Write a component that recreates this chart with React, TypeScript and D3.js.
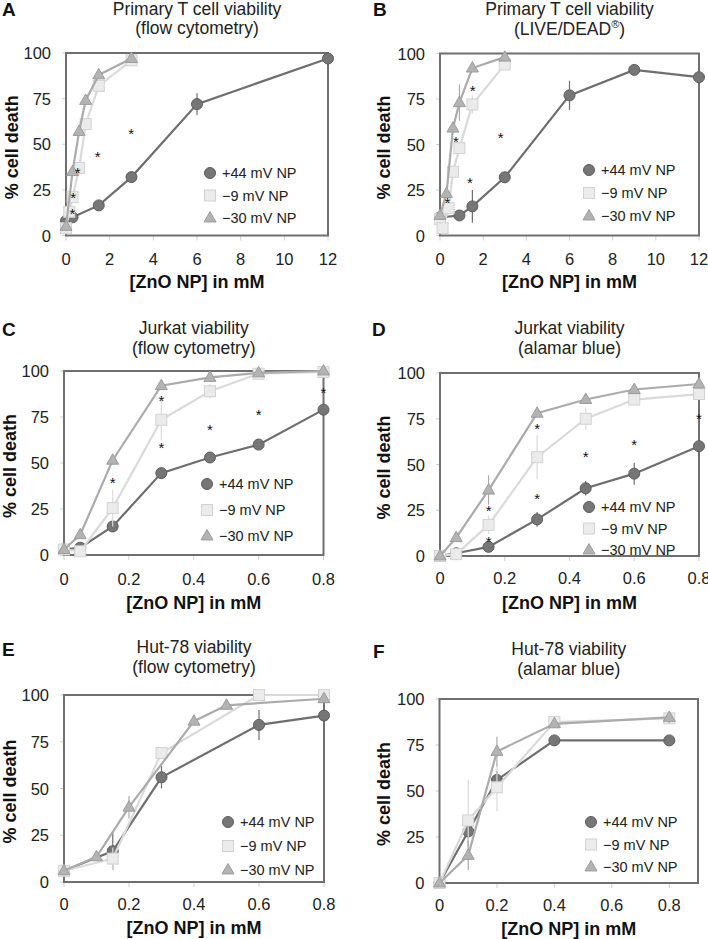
import React from "react";
import * as d3 from "d3";

const FONT = "'Liberation Sans', Arial, Helvetica, sans-serif";

const seriesNames = ["+44 mV NP", "\u22129 mV NP", "\u221230 mV NP"];
const yTicks = [0, 25, 50, 75, 100];
const xTicksWide = [0, 2, 4, 6, 8, 10, 12];
const xTicksNarrow = [0, 0.2, 0.4, 0.6, 0.8];

// Panel A
const aX44 = [0, 0.3, 1.5, 3, 6, 12];
const aY44 = [8, 10, 16.5, 32, 72, 97];
const aE44 = [1, 1, 2, 2, 6, 2];
const aXm9 = [0, 0.15, 0.3, 0.6, 0.9, 1.5, 3];
const aYm9 = [4, 13, 21, 37, 61, 82, 96];
const aEm9 = [1, 2, 2, 2, 2, 2, 2];
const aXm30 = [0, 0.3, 0.6, 0.9, 1.5, 3];
const aYm30 = [5, 35, 57, 74, 88, 97];
const aEm30 = [1, 2, 2, 2, 2, 2];
const aStars = [[0.29, 13], [0.33, 21.5], [0.53, 35.5], [1.45, 44], [2.98, 56.5]];

// Panel B
const bX44 = [0, 0.9, 1.5, 3, 6, 9, 12];
const bY44 = [10, 11, 16, 32, 77, 91, 87];
const bE44 = [1, 1, 9, 3, 8, 2, 2];
const bXm9 = [0, 0.12, 0.4, 0.6, 0.9, 1.5, 3];
const bYm9 = [9, 4, 15, 35, 48, 72, 94];
const bEm9 = [1, 1, 2, 2, 3, 5, 2];
const bXm30 = [0, 0.3, 0.6, 0.9, 1.5, 3];
const bYm30 = [11, 23, 59, 73, 92, 98];
const bEm30 = [1, 2, 3, 10, 2, 1];
const bStars = [[0.34, 19], [0.74, 52.5], [1.51, 80.5], [1.39, 30], [2.81, 54.5]];

// Panel C
const cX = [0, 0.05, 0.15, 0.3, 0.45, 0.6, 0.8];
const cY44 = [3, 4, 15.5, 44.5, 53, 60, 79];
const cE44 = [1, 1, 3, 2, 3, 2, 2];
const cYm9 = [3, 2, 25.5, 73.5, 89, 98.5, 99.5];
const cEm9 = [1, 1, 10, 11, 4, 1, 1];
const cYm30 = [3, 11, 51.5, 92, 96.5, 99, 100];
const cEm30 = [1, 2, 2, 1, 1, 1, 1];
const cStars = [[0.15, 40], [0.3, 85], [0.3, 59], [0.45, 69], [0.6, 77], [0.8, 89]];

// Panel D
const dX = [0, 0.05, 0.15, 0.3, 0.45, 0.6, 0.8];
const dY44 = [0, 1.5, 5, 20, 37, 45, 60];
const dE44 = [0, 1, 3, 4, 4, 6, 3];
const dYm9 = [0, 1, 17, 54, 75, 85.5, 88.5];
const dEm9 = [0, 1, 5, 12, 6, 2, 2];
const dYm30 = [0, 10, 36, 78, 85.5, 91, 94];
const dEm30 = [0, 1, 8, 2, 2, 2, 2];
const dStars = [[0.15, 25.5], [0.15, 8.5], [0.3, 70.5], [0.3, 32], [0.45, 55], [0.6, 62], [0.8, 76]];

// Panel E
const eX44 = [0, 0.15, 0.3, 0.6, 0.8];
const eY44 = [6, 16.5, 56, 84, 89];
const eE44 = [1, 10, 6, 8, 2];
const eXm9 = [0, 0.15, 0.3, 0.6, 0.8];
const eYm9 = [6, 12.5, 69, 100, 100];
const eEm9 = [1, 6, 3, 2, 2];
const eXm30 = [0, 0.1, 0.2, 0.4, 0.5, 0.8];
const eYm30 = [6, 13.5, 40, 86, 94.5, 98];
const eEm30 = [1, 1, 6, 2, 1, 1];

// Panel F
const fX = [0, 0.1, 0.2, 0.4, 0.8];
const fY44 = [0, 28, 56, 77.5, 77.5];
const fE44 = [0, 8, 5, 1, 1];
const fYm9 = [0, 34, 52, 87.5, 89.5];
const fEm9 = [0, 22, 13, 2, 2];
const fYm30 = [0, 15, 71.5, 86.5, 90];
const fEm30 = [0, 8, 8, 2, 3];

const STYLE = [
  { line: "#6e6e6e", fill: "#767676", stroke: "#5c5c5c", shape: "circle" },
  { line: "#dadada", fill: "#ebebeb", stroke: "#d2d2d2", shape: "square" },
  { line: "#ababab", fill: "#b3b3b3", stroke: "#9c9c9c", shape: "triangle" },
];

type Series = { x: number[]; y: number[]; e: number[] };
type PanelCfg = {
  letter: string;
  lx: number;
  ly: number;
  title1: string;
  title2: React.ReactNode;
  t1y: number;
  t2y: number;
  px0: number;
  px1: number;
  py0: number;
  py1: number;
  xMax: number;
  xTicks: number[];
  series: Series[];
  stars: number[][];
  legX: number;
  legY: number;
  legGap: number;
  xTickY: number;
  xLabY: number;
  yLabX: number;
};

function Marker({ shape, cx, cy, fill, stroke }: any) {
  if (shape === "circle") return <circle cx={cx} cy={cy} r={5.5} fill={fill} stroke={stroke} strokeWidth={1} />;
  if (shape === "square") return <rect x={cx - 5.5} y={cy - 5.5} width={11} height={11} fill={fill} stroke={stroke} strokeWidth={1} />;
  const s = 12;
  const h = s * 0.866;
  const pts = `${cx},${cy - h * 0.62} ${cx - s / 2},${cy + h * 0.38} ${cx + s / 2},${cy + h * 0.38}`;
  return <polygon points={pts} fill={fill} stroke={stroke} strokeWidth={1} />;
}

function Panel({ c }: { c: PanelCfg }) {
  const x = d3.scaleLinear().domain([0, c.xMax]).range([c.px0, c.px1]);
  const y = d3.scaleLinear().domain([0, 100]).range([c.py0, c.py1]);
  const cx = (c.px0 + c.px1) / 2;
  const cy = (c.py0 + c.py1) / 2;
  const fmt = (v: number) => (c.xMax > 2 ? String(v) : v === 0 ? "0" : d3.format(".1f")(v));
  return (
    <g fontFamily={FONT}>
      <text x={c.lx} y={c.ly} fontSize={19} fontWeight="bold" fill="#111">{c.letter}</text>
      <text x={cx} y={c.t1y} fontSize={17.5} textAnchor="middle" fill="#222">{c.title1}</text>
      <text x={cx} y={c.t2y} fontSize={17.5} textAnchor="middle" fill="#222">{c.title2}</text>
      {c.xTicks.map((t) => (
        <g key={"xt" + t}>
          <line x1={x(t)} x2={x(t)} y1={c.py0} y2={c.py0 + 5} stroke="#cfcfcf" strokeWidth={1} />
          <text x={x(t)} y={c.xTickY} fontSize={16.5} textAnchor="middle" fill="#222">{fmt(t)}</text>
        </g>
      ))}
      {yTicks.map((t) => (
        <g key={"yt" + t}>
          <line x1={c.px0 - 4} x2={c.px0} y1={y(t)} y2={y(t)} stroke="#cfcfcf" strokeWidth={1} />
          <text x={c.px0 - 15} y={y(t) + 6} fontSize={16.5} textAnchor="end" fill="#222">{t}</text>
        </g>
      ))}
      <rect x={c.px0} y={c.py1} width={c.px1 - c.px0} height={c.py0 - c.py1} fill="none" stroke="#6f6f6f" strokeWidth={2} />
      {c.series.map((s, i) => {
        const st = STYLE[i];
        const pts = s.x.map((xv, j) => [x(xv), y(s.y[j])] as [number, number]);
        const path = d3.line()(pts) || "";
        return (
          <g key={"s" + i}>
            {s.x.map((xv, j) =>
              s.e[j] > 1 ? (
                <line key={"e" + j} x1={x(xv)} x2={x(xv)} y1={y(Math.min(100, s.y[j] + s.e[j]))} y2={y(Math.max(0, s.y[j] - s.e[j]))} stroke={st.line} strokeWidth={1.2} />
              ) : null
            )}
            <path d={path} fill="none" stroke={st.line} strokeWidth={2.2} />
            {pts.map((p, j) => (
              <Marker key={"m" + j} shape={st.shape} cx={p[0]} cy={p[1]} fill={st.fill} stroke={st.stroke} />
            ))}
          </g>
        );
      })}
      {c.stars.map((s, i) => (
        <text key={"st" + i} x={x(s[0])} y={y(s[1]) + 7} fontSize={15} textAnchor="middle" fill="#111">*</text>
      ))}
      {seriesNames.map((n, i) => {
        const st = STYLE[i];
        const ly = c.legY + i * c.legGap;
        return (
          <g key={"l" + i}>
            <Marker shape={st.shape} cx={c.legX} cy={ly} fill={st.fill} stroke={st.stroke} />
            <text x={c.legX + 12} y={ly + 5} fontSize={14.5} fill="#222">{n}</text>
          </g>
        );
      })}
      <text x={cx} y={c.xLabY} fontSize={18} fontWeight="bold" textAnchor="middle" fill="#111">[ZnO NP] in mM</text>
      <text transform={`translate(${c.yLabX},${cy + 3}) rotate(-90)`} fontSize={18} fontWeight="bold" textAnchor="middle" fill="#111">% cell death</text>
    </g>
  );
}

const panels: PanelCfg[] = [
  {
    letter: "A", lx: 2, ly: 16, title1: "Primary T cell viability", title2: "(flow cytometry)", t1y: 15, t2y: 34,
    px0: 66, px1: 328, py0: 235.5, py1: 53, xMax: 12, xTicks: xTicksWide,
    series: [{ x: aX44, y: aY44, e: aE44 }, { x: aXm9, y: aYm9, e: aEm9 }, { x: aXm30, y: aYm30, e: aEm30 }],
    stars: aStars, legX: 210, legY: 173, legGap: 22.5, xTickY: 265, xLabY: 288, yLabX: 18,
  },
  {
    letter: "B", lx: 373, ly: 16, title1: "Primary T cell viability",
    title2: (<>(LIVE/DEAD<tspan fontSize={11} dy={-7}>®</tspan><tspan dy={7}>)</tspan></>), t1y: 15, t2y: 35,
    px0: 440, px1: 699, py0: 235.5, py1: 53.5, xMax: 12, xTicks: xTicksWide,
    series: [{ x: bX44, y: bY44, e: bE44 }, { x: bXm9, y: bYm9, e: bEm9 }, { x: bXm30, y: bYm30, e: bEm30 }],
    stars: bStars, legX: 589, legY: 170, legGap: 23, xTickY: 265, xLabY: 288, yLabX: 390,
  },
  {
    letter: "C", lx: 2, ly: 336, title1: "Jurkat viability", title2: "(flow cytometry)", t1y: 334, t2y: 354,
    px0: 64, px1: 323.5, py0: 555, py1: 371, xMax: 0.8, xTicks: xTicksNarrow,
    series: [{ x: cX, y: cY44, e: cE44 }, { x: cX, y: cYm9, e: cEm9 }, { x: cX, y: cYm30, e: cEm30 }],
    stars: cStars, legX: 207, legY: 484, legGap: 26, xTickY: 585, xLabY: 609, yLabX: 16,
  },
  {
    letter: "D", lx: 372, ly: 336, title1: "Jurkat viability", title2: "(alamar blue)", t1y: 334, t2y: 354,
    px0: 440, px1: 699, py0: 556, py1: 373, xMax: 0.8, xTicks: xTicksNarrow,
    series: [{ x: dX, y: dY44, e: dE44 }, { x: dX, y: dYm9, e: dEm9 }, { x: dX, y: dYm30, e: dEm30 }],
    stars: dStars, legX: 589, legY: 507, legGap: 21.5, xTickY: 584, xLabY: 609, yLabX: 390,
  },
  {
    letter: "E", lx: 2, ly: 656, title1: "Hut-78 viability", title2: "(flow cytometry)", t1y: 653, t2y: 673,
    px0: 64, px1: 324, py0: 882, py1: 695, xMax: 0.8, xTicks: xTicksNarrow,
    series: [{ x: eX44, y: eY44, e: eE44 }, { x: eXm9, y: eYm9, e: eEm9 }, { x: eXm30, y: eYm30, e: eEm30 }],
    stars: [], legX: 228, legY: 822, legGap: 24, xTickY: 910, xLabY: 934, yLabX: 16,
  },
  {
    letter: "F", lx: 373, ly: 658, title1: "Hut-78 viability", title2: "(alamar blue)", t1y: 655, t2y: 675,
    px0: 439.5, px1: 698, py0: 883, py1: 699, xMax: 0.9, xTicks: xTicksNarrow,
    series: [{ x: fX, y: fY44, e: fE44 }, { x: fX, y: fYm9, e: fEm9 }, { x: fX, y: fYm30, e: fEm30 }],
    stars: [], legX: 591, legY: 822, legGap: 22.5, xTickY: 911, xLabY: 935, yLabX: 390,
  },
];

export default function App() {
  return (
    <svg width={708} height={939} style={{ position: "absolute", left: 0, top: 0, background: "#fff" }}>
      <rect width={708} height={939} fill="#fff" />
      {panels.map((p) => (
        <Panel key={p.letter} c={p} />
      ))}
    </svg>
  );
}
